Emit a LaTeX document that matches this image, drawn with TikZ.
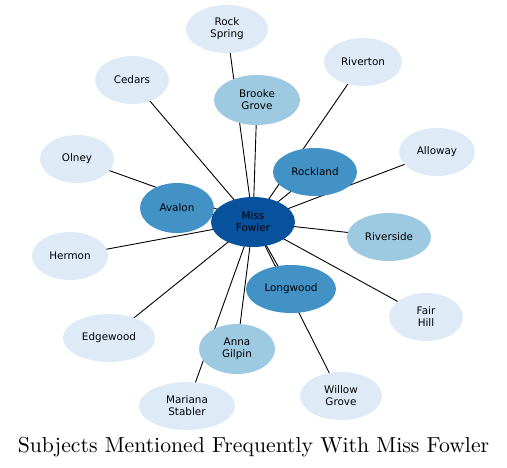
\documentclass[tikz,border=0pt]{standalone}
\usepackage{fontspec}
\newfontfamily\lab{DejaVu Sans}
\newfontfamily\titlef{lmroman10-regular.otf}
\usetikzlibrary{shapes.geometric,backgrounds}
\definecolor{cA}{HTML}{08519C}
\definecolor{cB}{HTML}{4292C6}
\definecolor{cC}{HTML}{9ECAE1}
\definecolor{cD}{HTML}{DEEBF7}
\begin{document}
\begin{tikzpicture}[x=1pt,y=-1pt,
  nd/.style={ellipse,inner sep=0pt,minimum height=48pt,align=center,
    font=\lab\fontsize{10.4}{12}\selectfont,text=black},
  lvA/.style={nd,fill=cA},
  lvB/.style={nd,fill=cB},
  lvC/.style={nd,fill=cC},
  lvD/.style={nd,fill=cD},
  edge/.style={draw=black,line width=0.9pt}]
\useasboundingbox (0,0) rectangle (507,467);
\node[lvA,minimum width=84pt,minimum height=50pt] (mf) at (253,222) {Miss\\Fowler};
\node[lvB,minimum width=84pt] (rockland) at (315,172) {Rockland};
\node[lvB,minimum width=74pt,minimum height=50pt] (avalon) at (177,208) {Avalon};
\node[lvB,minimum width=90pt] (longwood) at (291,289) {Longwood};
\node[lvC,minimum width=86pt,minimum height=50pt] (brooke) at (257,100) {Brooke\\Grove};
\node[lvC,minimum width=84pt] (riverside) at (389,237) {Riverside};
\node[lvC,minimum width=76pt,minimum height=50pt] (anna) at (237,349) {Anna\\Gilpin};
\node[lvD,minimum width=82pt] (rockspring) at (227,29) {Rock\\Spring};
\node[lvD,minimum width=78pt] (riverton) at (363,62) {Riverton};
\node[lvD,minimum width=74pt] (cedars) at (132,80) {Cedars};
\node[lvD,minimum width=74pt] (olney) at (77,159) {Olney};
\node[lvD,minimum width=76pt] (alloway) at (437,152) {Alloway};
\node[lvD,minimum width=76pt] (hermon) at (70,256) {Hermon};
\node[lvD,minimum width=74pt] (fairhill) at (426,317) {Fair\\Hill};
\node[lvD,minimum width=92pt] (edgewood) at (109,338) {Edgewood};
\node[lvD,minimum width=96pt] (mariana) at (187,406) {Mariana\\Stabler};
\node[lvD,minimum width=82pt] (willow) at (341,396) {Willow\\Grove};
\begin{scope}[on background layer]
\foreach \t in {rockland,avalon,longwood,brooke,riverside,anna,rockspring,riverton,cedars,olney,alloway,hermon,fairhill,edgewood,mariana,willow}
  \draw[edge] (mf.center) -- (\t.center);
\end{scope}
\node[font=\titlef\fontsize{21.7}{26}\selectfont,anchor=base] (title) at (253.5,452) {Subjects Mentioned Frequently With Miss Fowler};
\end{tikzpicture}
\end{document}
